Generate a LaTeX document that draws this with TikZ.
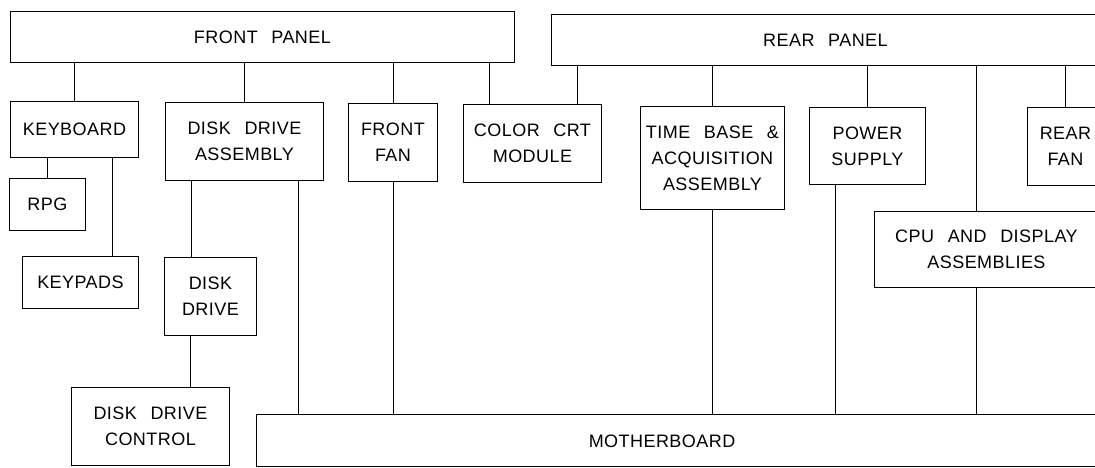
\documentclass[tikz,border=0pt]{standalone}
\usepackage{fontspec}
\setmainfont{Liberation Sans}[WordSpace=2.5, LetterSpace=2.5]

\begin{document}
\begin{tikzpicture}[x=1pt, y=-1pt,
    box/.style={draw, line width=0.9pt, anchor=north west, inner sep=0pt,
      align=center, font=\fontsize{18}{26}\selectfont},
    wire/.style={line width=0.9pt}]
    \fill[white] (0,0) rectangle (1095,468);
    \clip (0,0) rectangle (1095,468);

    % panels
    \node[box, minimum width=504, minimum height=51] (front) at (10,11) {FRONT PANEL};
    \node[box, minimum width=548, minimum height=51] (rear) at (551,14) {REAR PANEL};

    % upper row
    \node[box, minimum width=128, minimum height=56] (kbd) at (10,101) {KEYBOARD};
    \node[box, minimum width=158, minimum height=78] (dda) at (165,102) {DISK DRIVE\\ASSEMBLY};
    \node[box, minimum width=89, minimum height=78] (ffan) at (348,103) {FRONT\\FAN};
    \node[box, minimum width=138, minimum height=78] (crt) at (463,104) {COLOR CRT\\MODULE};
    \node[box, minimum width=144, minimum height=103] (tb) at (640,106) {TIME BASE \&\\ACQUISITION\\ASSEMBLY};
    \node[box, minimum width=116, minimum height=77] (ps) at (809,107) {POWER\\SUPPLY};
    \node[box, minimum width=76, minimum height=78] (rfan) at (1027,107) {REAR\\FAN};

    % lower boxes
    \node[box, minimum width=76, minimum height=52] (rpg) at (9,178) {RPG};
    \node[box, minimum width=116, minimum height=52] (keypads) at (22,256) {KEYPADS};
    \node[box, minimum width=92, minimum height=78] (ddrive) at (164,257) {DISK\\DRIVE};
    \node[box, minimum width=158, minimum height=78] (ddc) at (71,387) {DISK DRIVE\\CONTROL};
    \node[box, minimum width=224, minimum height=76] (cpu) at (874,211) {CPU AND DISPLAY\\ASSEMBLIES};
    \node[box, minimum width=854, minimum height=52] (mb) at (256,414) {};
    \node[font=\fontsize{18}{26}\selectfont] (mbtext) at (662,441) {MOTHERBOARD};

    % front panel branches
    \coordinate (crtA) at ([xshift=26]crt.north west);
    \foreach \n in {kbd.north,dda.north,ffan.north,crtA}
        \draw[wire] (\n) -- (\n |- front.south);

    % rear panel branches
    \coordinate (crtB) at ([xshift=-24]crt.north east);
    \coordinate (cpuA) at ([xshift=102]cpu.north west);
    \foreach \n in {crtB,tb.north,ps.north,cpuA,rfan.north}
        \draw[wire] (\n) -- (\n |- rear.south);

    % keyboard
    \coordinate (kpA) at ([xshift=-26]keypads.north east);
    \draw[wire] (rpg.north) -- (rpg.north |- kbd.south);
    \draw[wire] (kpA) -- (kpA |- kbd.south);

    % disk drive
    \coordinate (ddA) at ([xshift=27]ddrive.north west);
    \coordinate (ddB) at ([xshift=26]ddrive.south west);
    \draw[wire] (ddA) -- (ddA |- dda.south);
    \draw[wire] (ddB) -- (ddB |- ddc.north);

    % motherboard
    \coordinate (ddaB) at ([xshift=-25]dda.south east);
    \coordinate (psB) at ([xshift=26]ps.south west);
    \coordinate (cpuB) at ([xshift=102]cpu.south west);
    \foreach \n in {ddaB,ffan.south,tb.south,psB,cpuB}
        \draw[wire] (\n) -- (\n |- mb.north);
\end{tikzpicture}
\end{document}
